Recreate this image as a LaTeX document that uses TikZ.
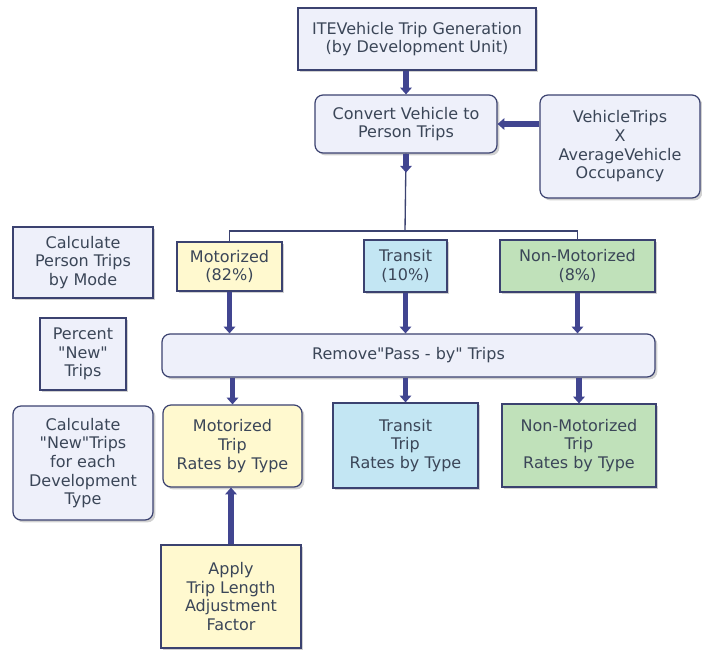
\documentclass[tikz,border=0pt]{standalone}
\usepackage{fontspec}
\newfontfamily\boxfont{DejaVu Sans}
\usetikzlibrary{arrows.meta,shadows}
\definecolor{edge}{HTML}{3B4270}
\definecolor{arrowc}{HTML}{414590}
\definecolor{txt}{HTML}{3B4658}
\definecolor{lav}{HTML}{EEF0FA}
\definecolor{yel}{HTML}{FFF9CF}
\definecolor{blu}{HTML}{C3E6F3}
\definecolor{grn}{HTML}{C0E1BA}
\tikzset{
  box/.style={draw=edge, line width=0.9pt, fill=lav, inner sep=0pt, align=center,
    text=txt, font=\boxfont\fontsize{12}{14}\selectfont,
    drop shadow={shadow xshift=1.8pt, shadow yshift=-1.8pt, fill=black, opacity=0.18}},
  rbox/.style={box, rounded corners=6pt},
  yelbox/.style={box, fill=yel},
  blubox/.style={box, fill=blu},
  grnbox/.style={box, fill=grn},
  arr/.style={draw=arrowc, line width=3.8pt, -{Triangle[width=8.5pt,length=5pt]}},
  thin/.style={draw=edge, line width=1pt},
}
\begin{document}
\begin{tikzpicture}[x=0.75pt,y=-0.75pt]
\useasboundingbox[fill=white] (0,0) rectangle (702,650);
% nodes
\node[box, minimum width=178.5pt, minimum height=46.5pt] (top) at (417,39) {ITEVehicle Trip Generation\\(by Development Unit)};
\node[rbox, minimum width=136.5pt, minimum height=43.5pt] (conv) at (406,124) {Convert Vehicle to\\Person Trips};
\node[rbox, minimum width=120pt, minimum height=77.25pt] (veh) at (620,146.5) {VehicleTrips\\X\\AverageVehicle\\Occupancy};
\node[box, minimum width=105pt, minimum height=53.25pt] (calcP) at (83,262.5) {Calculate\\Person Trips\\by Mode};
\node[yelbox, minimum width=78.75pt, minimum height=36.75pt] (motor) at (229.5,266.5) {Motorized\\(82\%)};
\node[blubox, minimum width=62.25pt, minimum height=39pt] (transit) at (405.5,266) {Transit\\(10\%)};
\node[grnbox, minimum width=116.25pt, minimum height=39pt] (nonmot) at (577.5,266) {Non-Motorized\\(8\%)};
\node[box, minimum width=64.5pt, minimum height=54pt] (pct) at (83,354) {Percent\\"New"\\Trips};
\node[rbox, minimum width=369.75pt, minimum height=32.25pt] (remove) at (408.5,355.5) {Remove"Pass - by" Trips};
\node[rbox, minimum width=105pt, minimum height=85.5pt] (calcN) at (83,463) {Calculate\\"New"Trips\\for each\\Development\\Type};
\node[yelbox, rounded corners=6pt, minimum width=104.25pt, minimum height=61.5pt] (motR) at (232.5,446) {Motorized\\Trip\\Rates by Type};
\node[blubox, minimum width=108.75pt, minimum height=63.75pt] (tranR) at (405.5,445.5) {Transit\\Trip\\Rates by Type};
\node[grnbox, minimum width=115.5pt, minimum height=62.25pt] (nonR) at (579,445.5) {Non-Motorized\\Trip\\Rates by Type};
\node[yelbox, minimum width=105pt, minimum height=77.25pt] (apply) at (231,596.5) {Apply\\Trip Length\\Adjustment\\Factor};
% branch coordinate
\coordinate (br) at (405,231);
% connectors
\draw[arr] (conv.north |- top.south) -- (conv.north);
\draw[arr] (veh.west |- conv.east) -- (conv.east);
\draw[thin] (conv.south) -- (br);
\draw[arr] (conv.south) -- ++(0,19);
\draw[thin] (motor.north) -- (motor.north |- br) -- (nonmot.north |- br) -- (nonmot.north);
\draw[arr] (motor.south) -- (motor.south |- remove.north);
\draw[arr] (transit.south) -- (transit.south |- remove.north);
\draw[arr] (nonmot.south) -- (nonmot.south |- remove.north);
\draw[arr] (motR.north |- remove.south) -- (motR.north);
\draw[arr] (tranR.north |- remove.south) -- (tranR.north);
\draw[arr] (nonR.north |- remove.south) -- (nonR.north);
\draw[arr] (apply.north) -- (motR.south -| apply.north);
\end{tikzpicture}
\end{document}
